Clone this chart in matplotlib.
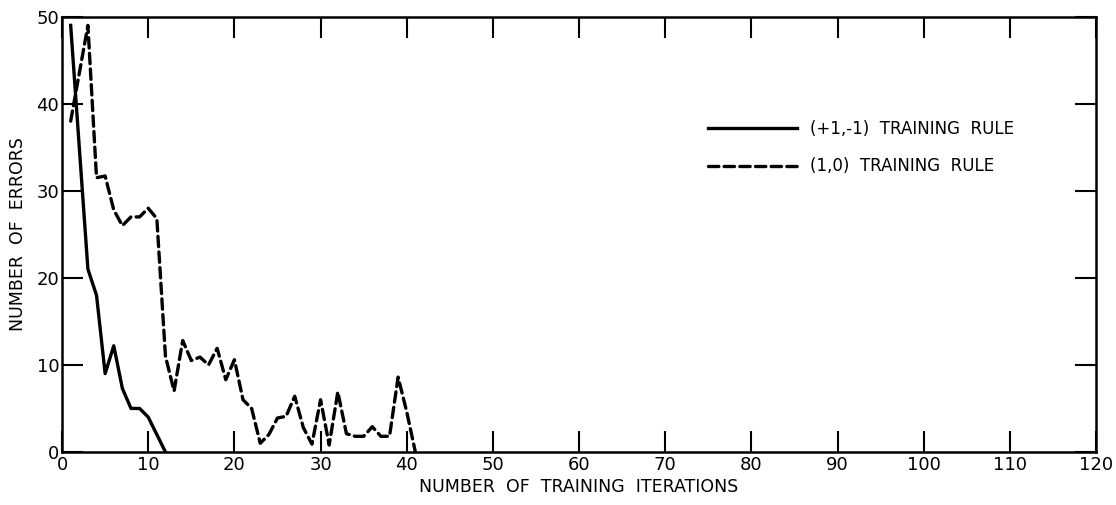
import matplotlib
matplotlib.use('Agg')
import matplotlib.pyplot as plt

# error counts, one value per training iteration
iter_pm = [1, 3, 4, 5, 6, 7, 8, 9, 10, 11, 12]
err_pm = [49, 21, 18, 9, 12.2, 7.3, 5, 5, 4, 2, 0]

iter_10 = [1, 2, 3, 4, 5, 6, 7, 8, 9, 10, 11, 12, 13, 14, 15, 16, 17, 18, 19, 20,
           21, 22, 23, 24, 25, 26, 27, 28, 29, 30, 31, 32, 33, 34, 35, 36, 37, 38,
           39, 40, 41]
err_10 = [38, 43.5, 49, 31.5, 31.7, 27.8, 26, 27, 27, 28, 26.8, 11, 7, 12.8, 10.5,
          10.9, 10, 11.9, 8.3, 10.6, 6, 5, 1, 2, 3.9, 4.1, 6.4, 2.8, 0.9, 6, 0.8,
          6.9, 2.1, 1.8, 1.8, 2.9, 1.8, 1.8, 8.6, 4.6, 0]

labels = ['(+1,-1)  TRAINING  RULE', '(1,0)  TRAINING  RULE']
xticks = list(range(0, 121, 10))
yticks = list(range(0, 51, 10))

plt.rcParams['font.family'] = ['DejaVu Sans']

fig = plt.figure(figsize=(11.16, 5.05), dpi=100)
ax = fig.add_axes([0.0556, 0.105, 0.9266, 0.862])

ax.plot(iter_pm, err_pm, color='black', lw=2.4, solid_joinstyle='round',
        label=labels[0])
ax.plot(iter_10, err_10, color='black', lw=2.4, dashes=(3.1, 1.6),
        dash_capstyle='round', label=labels[1])

ax.set_xlim(0, 120)
ax.set_ylim(0, 50)
ax.set_xticks(xticks)
ax.set_yticks(yticks)
ax.tick_params(direction='in', length=15, width=1.5, top=True, right=True,
               labelsize=13, pad=3)
ax.tick_params(axis='y', pad=2)
for s in ax.spines.values():
    s.set_linewidth(1.8)

ax.set_xlabel('NUMBER  OF  TRAINING  ITERATIONS', fontsize=12.5, labelpad=3)
ax.set_ylabel('NUMBER  OF  ERRORS', fontsize=12.5, labelpad=7)

ax.legend(loc='upper left', bbox_to_anchor=(0.625, 0.762), frameon=False,
          fontsize=12, handlelength=5.3, handletextpad=0.8, borderpad=0,
          borderaxespad=0, labelspacing=1.15)

fig.savefig('out.png', dpi=100)
